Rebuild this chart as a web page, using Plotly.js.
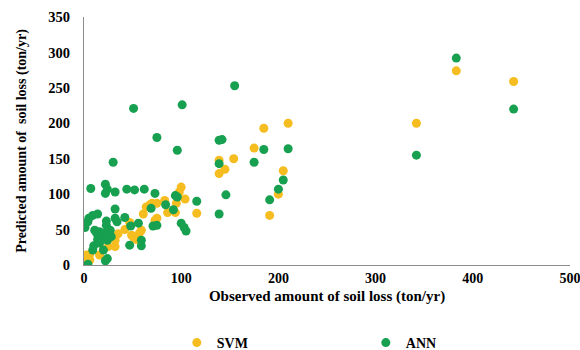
<!DOCTYPE html>
<html>
<head>
<meta charset="utf-8">
<script src="https://cdn.plot.ly/plotly-3.0.1.min.js"></script>
<style>html,body{margin:0;padding:0;background:#fff;}#chart{width:580px;height:350px;}</style>
</head>
<body>
<div id="chart"></div>
<script>
// SVM: observed vs predicted
const svmObserved = [0,2,6,6,16,20,25,32,30,32,35,42,47,49,51,54,57,59,61,64,68,70,73,75,75,83,86,94,95,98,100,104,116,139,139,145,154,175,185,210,205,200,191,342,383,442];
const svmPredicted = [11,14,7,15,14,22,26,26,40,35,44,50,60,42,39,36,45,49,72,82,85,87,63,66,87,91,74,74,87,103,110,93,73,148,129,135,150,165,193,200,133,100,70,200,274,259];

// ANN: observed vs predicted
const annObserved = [383,442,342,155,101,51,75,96,139,142,185,210,175,139,205,200,191,146,139,30,
  116,94,96,84,73,62,52,44,92,69,71,75,100,103,105,7,22,24,32,22,
  1,4,5,9,14,11,13,23,23,32,32,34,42,48,56,16,20,23,27,14,16,10,9,20,24,28,24,22,47,59,59,4];
const annPredicted = [292,220,155,253,226,221,180,162,176,177,163,164,145,143,120,107,92,99,72,145,
  90,98,96,85,101,107,106,107,78,80,55,56,59,53,48,108,114,107,103,101,
  53,61,66,70,72,49,45,62,56,79,66,61,67,55,59,47,39,46,49,36,31,27,21,21,35,40,9,6,28,35,27,1];

const seriesNames = ['SVM', 'ANN'];
const xTicks = [0,100,200,300,400,500];
const yTicks = [0,50,100,150,200,250,300,350];

const fontFam = '"Liberation Serif", "Times New Roman", serif';

const traces = [
  {x: svmObserved, y: svmPredicted, name: seriesNames[0], type: 'scatter', mode: 'markers',
   marker: {color: '#F5BD1F', size: 9}},
  {x: annObserved, y: annPredicted, name: seriesNames[1], type: 'scatter', mode: 'markers',
   marker: {color: '#16A04F', size: 9}}
];

const layout = {
  width: 580, height: 350,
  margin: {l: 84, r: 10, t: 17, b: 85, autoexpand: false},
  paper_bgcolor: '#fff', plot_bgcolor: '#fff',
  font: {family: fontFam, size: 13, color: '#000'},
  showlegend: true,
  legend: {orientation: 'h', x: 0.191, xanchor: 'left', y: -0.25, yanchor: 'top',
           entrywidth: 144, itemwidth: 30, tracegroupgap: 0,
           font: {family: fontFam, size: 14, color: '#000', weight: 'bold'}},
  xaxis: {
    range: [0, 500], tickvals: xTicks, ticktext: xTicks.map(String), automargin: false,
    ticklabeloverflow: 'allow',
    showgrid: false, zeroline: false, showline: true, linecolor: '#8c8c8c', linewidth: 1,
    ticks: '', tickfont: {family: fontFam, size: 14, weight: 'bold'},
    title: {text: 'Observed amount of soil loss (ton/yr)', standoff: 5,
            font: {family: fontFam, size: 15, weight: 'bold'}}
  },
  yaxis: {
    range: [0, 350], tickvals: yTicks, ticktext: yTicks.map(String), automargin: false,
    showgrid: false, zeroline: false, showline: true, linecolor: '#8c8c8c', linewidth: 1,
    ticks: '', ticklabelstandoff: 10, tickfont: {family: fontFam, size: 14.5, weight: 'bold'},
    title: {text: 'Predicted amount of  soil loss (ton/yr)', standoff: 18,
            font: {family: fontFam, size: 14, weight: 'bold'}}
  }
};

Plotly.newPlot('chart', traces, layout, {displayModeBar: false, staticPlot: true});
</script>
</body>
</html>
